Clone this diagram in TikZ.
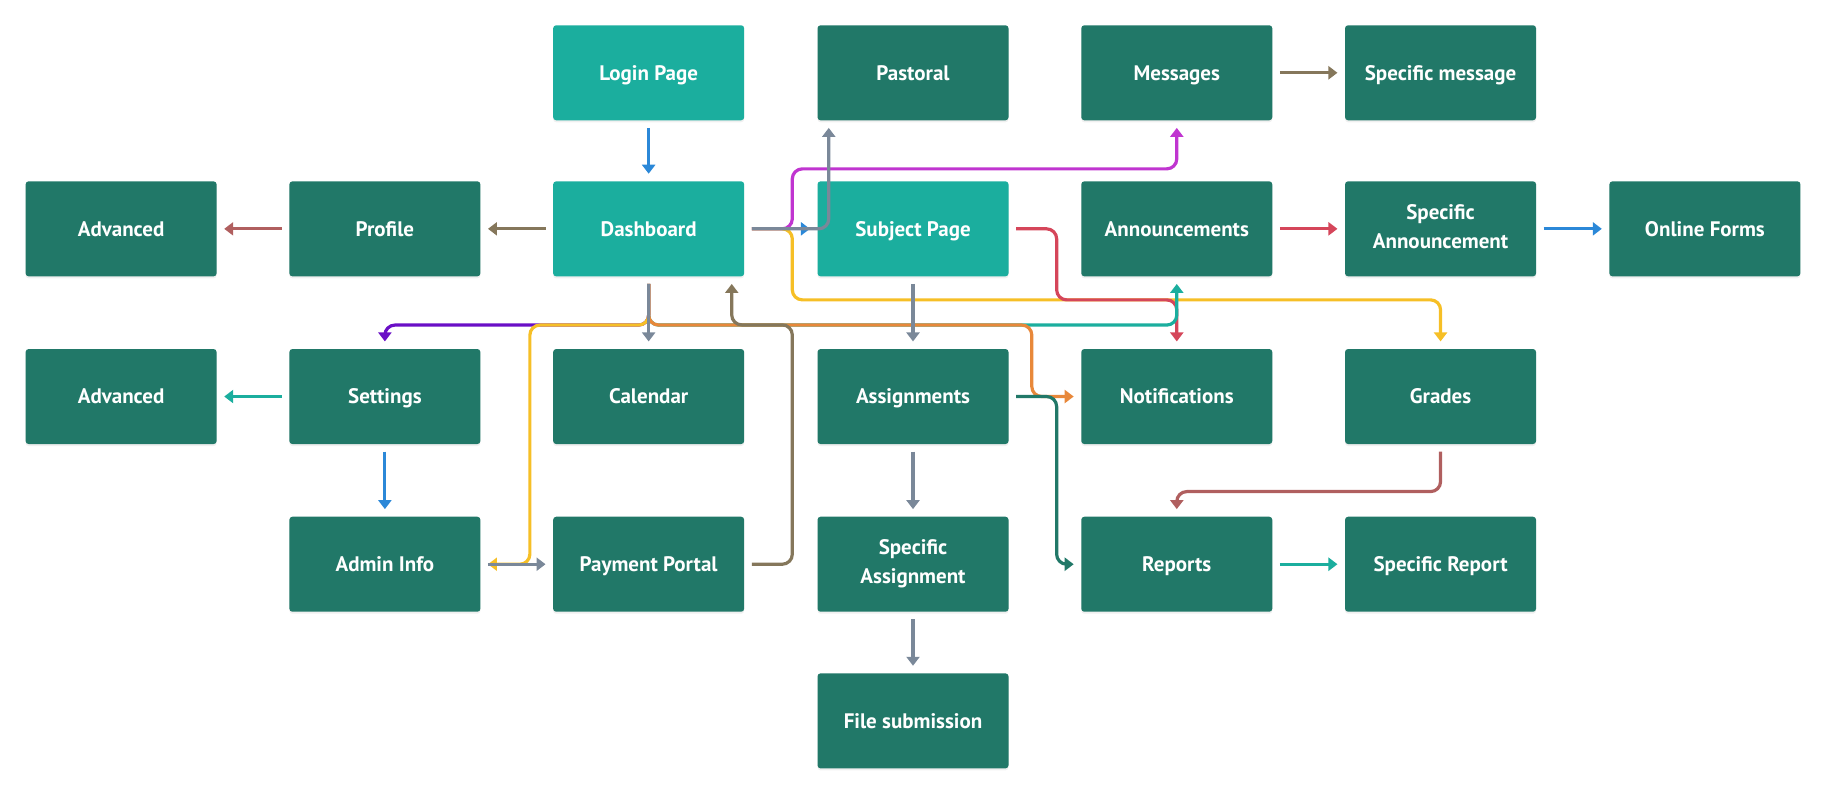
\documentclass[tikz,border=0pt]{standalone}
\usepackage{fontspec}
\setmainfont{PT Sans}
\usepackage{tikz}
\usetikzlibrary{arrows.meta, positioning, calc, shadows}
\usepackage{xcolor}
\definecolor{boxdark}{HTML}{217868}
\definecolor{boxlight}{HTML}{1BAE9E}
\definecolor{lblue}{HTML}{2B88D8}
\definecolor{ltaupe}{HTML}{85775B}
\definecolor{lrose}{HTML}{B05F5F}
\definecolor{lgrey}{HTML}{7A8899}
\definecolor{lmagenta}{HTML}{C035D0}
\definecolor{lyellow}{HTML}{F6BF26}
\definecolor{lred}{HTML}{D5465A}
\definecolor{lteal}{HTML}{1BAE9E}
\definecolor{lorange}{HTML}{E8883A}
\definecolor{lpurple}{HTML}{6A0FC6}
\definecolor{lgreen}{HTML}{217868}
\newcommand\pagestrut{\rule[-2.7pt]{0pt}{12.7pt}}
\tikzset{
	page/.style={fill=boxdark, text=white, rounded corners=1.5pt, minimum width=95.5pt, minimum height=47.5pt, inner sep=0pt, align=center, font=\bfseries\fontsize{10.5}{14.6}\selectfont, execute at begin node=\pagestrut, execute at end node=\pagestrut, drop shadow={opacity=.12, shadow xshift=0pt, shadow yshift=-1pt}},
	hub/.style={page, fill=boxlight},
	link/.style={->, line width=1.6pt, rounded corners=5pt, shorten <=3.6pt, shorten >=3.6pt},
	>={Triangle[length=4.5pt,width=6.5pt]}
}

\begin{document}
\begin{tikzpicture}[x=0.5823pt, y=-0.5823pt]
		\useasboundingbox (0,0) rectangle (1568,682);
		\draw (557,62.5)     node[hub] (login) {Login Page}
		(784,62.5)    node[page] (past) {Pastoral}
		(1010.5,62.5) node[page] (msg) {Messages}
		(1237,62.5)   node[page] (smsg) {Specific message}
		(104,196.5)   node[page] (adva) {Advanced}
		(330.5,196.5) node[page] (prof) {Profile}
		(557,196.5)   node[hub] (dash) {Dashboard}
		(784,196.5)   node[hub] (subj) {Subject Page}
		(1010.5,196.5) node[page] (ann) {Announcements}
		(1237,196.5)  node[page] (sann) {Specific\\Announcement}
		(1464,196.5)  node[page] (forms) {Online Forms}
		(104,340.5)   node[page] (advb) {Advanced}
		(330.5,340.5) node[page] (sett) {Settings}
		(557,340.5)   node[page] (cal) {Calendar}
		(784,340.5)   node[page] (asg) {Assignments}
		(1010.5,340.5) node[page] (notif) {Notifications}
		(1237,340.5)  node[page] (grad) {Grades}
		(330.5,484.5) node[page] (admin) {Admin Info}
		(557,484.5)   node[page] (pay) {Payment Portal}
		(784,484.5)   node[page] (sasg) {Specific\\Assignment}
		(1010.5,484.5) node[page] (rep) {Reports}
		(1237,484.5)  node[page] (srep) {Specific Report}
		(784,619)     node[page] (file) {File submission};
		
		\draw[link, lblue] (login) -- (dash);
		\draw[link, ltaupe] (dash) -- (prof);
		\draw[link, lrose] (prof) -- (adva);
		\draw[link, lblue] (dash) -- (subj);
		\draw[link, lmagenta] (dash.east) -- ++(41,0) -- ++(0,-51.5) -| (msg.south);
		\draw[link, lyellow] (dash.east) -- ++(41,0) -- ++(0,61) -| (grad.north);
		\draw[link, lred] (subj.east) -- ++(41,0) -- ++(0,61) -| (notif.north);
		\draw[link, lteal] (dash.south) -- ++(0,41.5) -| (ann.south);
		\draw[link, lorange] (dash.south) -- ++(0,41.5) -- ++(329,0) |- (notif.west);
		\draw[link, lpurple] (dash.south) -- ++(0,41.5) -| (sett.north);
		\draw[link, lyellow] (dash.south) -- ++(0,41.5) -- ++(-102,0) |- (admin.east);
		\draw[link, lgrey] (dash) -- (cal);
		\draw[link, ltaupe] (pay.east) -- ++(41,0) -- ++(0,-205.5) -| ($(dash.south east)+(-11,0)$);
		\draw[link, lgrey] (dash.east) -| ($(past.south west)+(10,0)$);
		\draw[link, lgrey] (admin) -- (pay);
		\draw[link, lblue] (sett) -- (admin);
		\draw[link, lteal] (sett) -- (advb);
		\draw[link, lgrey] (subj) -- (asg);
		\draw[link, lgrey] (asg) -- (sasg);
		\draw[link, lgrey] (sasg) -- (file);
		\draw[link, lgreen] (asg.east) -- ++(41,0) |- (rep.west);
		\draw[link, lrose] (grad.south) -- ++(0,40.5) -| (rep.north);
		\draw[link, lteal] (rep) -- (srep);
		\draw[link, ltaupe] (msg) -- (smsg);
		\draw[link, lred] (ann) -- (sann);
		\draw[link, lblue] (sann) -- (forms);
	\end{tikzpicture}
\end{document}
